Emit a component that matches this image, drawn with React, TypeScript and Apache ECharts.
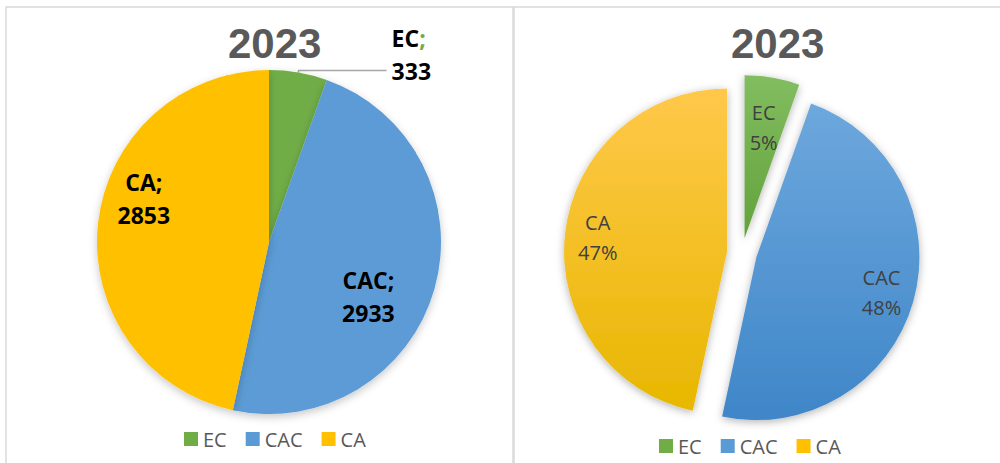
import React, { useEffect, useRef } from "react";
import * as echarts from "echarts";

const TITLE = "2023";
const CATEGORIES = ["EC", "CAC", "CA"];
const VALUES = [333, 2933, 2853];

const COLORS = ["#70AD47", "#5B9BD5", "#FFC000"];
const GRAD_TOP = ["#82BD60", "#6DA8DD", "#FFC84A"];
const GRAD_BOTTOM = ["#63A23B", "#3F86C8", "#E8B700"];

const LEFT_C = [269, 242];
const LEFT_R = 172;
const RIGHT_C = [742, 253];
const RIGHT_R = 163;
const EXPLODE = 15;

function midAngles(vals: number[]): number[] {
  const total = vals.reduce((a, b) => a + b, 0);
  let cum = 0;
  return vals.map((v) => {
    const m = ((cum + v / 2) / total) * 360;
    cum += v;
    return m;
  });
}

const FONT = "'Open Sans', 'Noto Sans', sans-serif";

export default function App() {
  const ref = useRef<HTMLDivElement>(null);
  useEffect(() => {
    if (!ref.current) return;
    const chart = echarts.init(ref.current, undefined, { renderer: "svg" });
    const mids = midAngles(VALUES);

    const leftRatio = [0, 0.66, 0.77];
    const leftRot = 13;
    const rightRatio = [0.78, 0.89, 0.89];

    const leftData = CATEGORIES.map((name, i) => ({
      name,
      value: VALUES[i],
      itemStyle: { color: COLORS[i] },
      label:
        i === 0
          ? { position: "outside", padding: [0, 0, 32, 0] }
          : { position: "inside" },
    }));

    const rightData = CATEGORIES.map((name, i) => ({
      name,
      value: VALUES[i],
      selected: true,
      itemStyle: {
        color: new echarts.graphic.LinearGradient(0, 0, 0, 1, [
          { offset: 0, color: GRAD_TOP[i] },
          { offset: 1, color: GRAD_BOTTOM[i] },
        ]),
      },
    }));

    const rightLabelData = CATEGORIES.map((name, i) => ({
      name,
      value: VALUES[i],
    }));

    const legendBase = {
      data: CATEGORIES,
      padding: 0,
      itemWidth: 14,
      itemHeight: 14,
      itemGap: 19,
      icon: "rect",
      selectedMode: false,
      textStyle: { fontFamily: FONT, fontSize: 20, color: "#595959" },
    };

    const titleStyle = {
      fontFamily: "'Liberation Sans', Arial, sans-serif",
      fontWeight: "bold",
      fontSize: 42,
      color: "#595959",
    };

    chart.setOption({
      animation: false,
      backgroundColor: "#ffffff",
      title: [
        { text: TITLE, left: 228, top: 22, padding: 0, textStyle: titleStyle },
        { text: TITLE, left: 731, top: 22, padding: 0, textStyle: titleStyle },
      ],
      legend: [
        { ...legendBase, left: 184, top: 429 },
        { ...legendBase, left: 659, top: 436 },
      ],
      graphic: [
        {
          type: "rect",
          shape: { x: 6, y: 7, width: 507, height: 490 },
          style: { fill: "none", stroke: "#D9D9D9", lineWidth: 1.5 },
          silent: true,
          z: -1,
        },
        {
          type: "rect",
          shape: { x: 514, y: 7, width: 500, height: 490 },
          style: { fill: "none", stroke: "#D9D9D9", lineWidth: 1.5 },
          silent: true,
          z: -1,
        },
      ],
      series: [
        {
          type: "pie",
          center: LEFT_C,
          radius: [0, LEFT_R],
          startAngle: 90,
          clockwise: true,
          avoidLabelOverlap: false,
          emphasis: { disabled: true },
          itemStyle: {
            borderWidth: 0,
            shadowBlur: 8,
            shadowOffsetY: 3,
            shadowColor: "rgba(0,0,0,0.22)",
          },
          label: {
            show: true,
            fontFamily: FONT,
            formatter: (p: any) =>
              p.dataIndex === 0
                ? `{t|${p.name}}{g|;}\n{t|${p.value}}`
                : `{t|${p.name};}\n{t|${p.value}}`,
            rich: {
              t: { fontFamily: FONT, fontSize: 23, fontWeight: "bold", color: "#000000", lineHeight: 33 },
              g: { fontFamily: FONT, fontSize: 23, fontWeight: "bold", color: "#70AD47", lineHeight: 33 },
            },
          },
          labelLine: {
            show: true,
            length: 2,
            length2: 88,
            smooth: false,
            lineStyle: { color: "#A6A6A6", width: 1.5 },
          },
          labelLayout: (p: any) => {
            const i = p.dataIndex;
            if (i === 0) return {};
            const a = ((mids[i] + leftRot) * Math.PI) / 180;
            const d = LEFT_R * leftRatio[i];
            return {
              x: LEFT_C[0] + d * Math.sin(a),
              y: LEFT_C[1] - d * Math.cos(a),
              align: "center",
              verticalAlign: "middle",
            };
          },
          data: leftData,
        },
        {
          type: "pie",
          center: RIGHT_C,
          radius: [0, RIGHT_R],
          startAngle: 90,
          clockwise: true,
          selectedMode: "multiple",
          selectedOffset: EXPLODE,
          avoidLabelOverlap: false,
          emphasis: { disabled: true },
          itemStyle: {
            borderWidth: 0,
            shadowBlur: 8,
            shadowOffsetY: 2,
            shadowColor: "rgba(0,0,0,0.3)",
          },
          label: { show: false },
          labelLine: { show: false },
          data: rightData,
        },
        {
          type: "pie",
          center: RIGHT_C,
          radius: [0, RIGHT_R],
          startAngle: 90,
          clockwise: true,
          silent: true,
          percentPrecision: 0,
          avoidLabelOverlap: false,
          emphasis: { disabled: true },
          itemStyle: { color: "rgba(0,0,0,0)", borderWidth: 0 },
          label: {
            show: true,
            position: "inside",
            formatter: "{b}\n{d}%",
            fontFamily: FONT,
            fontSize: 20,
            lineHeight: 30,
            color: "#404040",
          },
          labelLine: { show: false },
          labelLayout: (p: any) => {
            const i = p.dataIndex;
            const a = (mids[i] * Math.PI) / 180;
            const d = RIGHT_R * rightRatio[i];
            return {
              x: RIGHT_C[0] + d * Math.sin(a),
              y: RIGHT_C[1] - d * Math.cos(a),
              align: "center",
              verticalAlign: "middle",
            };
          },
          data: rightLabelData,
        },
      ],
    });
    return () => chart.dispose();
  }, []);
  return (
    <div
      ref={ref}
      style={{ position: "absolute", left: 0, top: 0, width: 1000, height: 463 }}
    />
  );
}
